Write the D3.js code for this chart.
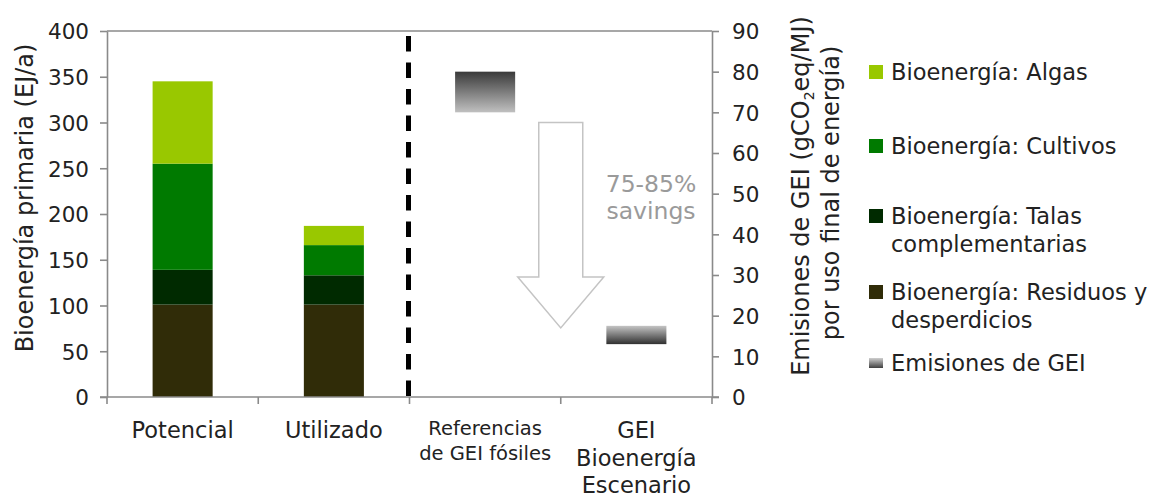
<!DOCTYPE html>
<html>
<head>
<meta charset="utf-8">
<script src="https://cdn.jsdelivr.net/npm/d3@7"></script>
<style>
  html, body { margin: 0; padding: 0; background: #fff; }
  svg { display: block; font-family: "DejaVu Sans", Verdana, sans-serif; }
</style>
</head>
<body>
<svg id="chart" width="1169" height="497"></svg>
<script>
// ---------- data ----------
const categories = ["Potencial", "Utilizado", "Referencias de GEI fósiles", "GEI Bioenergía Escenario"];
const categoryLines = [["Potencial"], ["Utilizado"], ["Referencias", "de GEI fósiles"], ["GEI", "Bioenergía", "Escenario"]];
const seriesNames = ["Bioenergía: Residuos y desperdicios", "Bioenergía: Talas complementarias", "Bioenergía: Cultivos", "Bioenergía: Algas"];
const seriesKeys = ["residuos", "talas", "cultivos", "algas"];
const residuos = [101, 101];
const talas = [38, 32];
const cultivos = [116, 33];
const algas = [90, 21];
const ghgLow = [70, 13];      // gCO2eq/MJ
const ghgHigh = [80, 17.5];
const arrowValues = { top: 67.5, head: 29.5, tip: 17 };
const leftTicks = [0, 50, 100, 150, 200, 250, 300, 350, 400];
const rightTicks = [0, 10, 20, 30, 40, 50, 60, 70, 80, 90];
const savingsText = ["75-85%", "savings"];
const leftTitle = "Bioenergía primaria (EJ/a)";
const legendItems = [
  { key: "algas", lines: ["Bioenergía: Algas"] },
  { key: "cultivos", lines: ["Bioenergía: Cultivos"] },
  { key: "talas", lines: ["Bioenergía: Talas", "complementarias"] },
  { key: "residuos", lines: ["Bioenergía: Residuos y", "desperdicios"] },
  { key: "ghg", lines: ["Emisiones de GEI"] }
];

// ---------- styles ----------
const colors = { algas: "#99c800", cultivos: "#007a00", talas: "#002a00", residuos: "#302c08" };
const axisColor = "#8a8a8a";
const textColor = "#222";

const svg = d3.select("#chart");
const plot = { left: 107, right: 712, top: 31, bottom: 397 };

const x = d3.scaleBand().domain(categories).range([plot.left, plot.right]).padding(0);
const yL = d3.scaleLinear().domain([0, 400]).range([plot.bottom, plot.top]);
const yR = d3.scaleLinear().domain([0, 90]).range([plot.bottom, plot.top]);
const barW = x.bandwidth() * 0.397;
const barX = c => x(c) + (x.bandwidth() - barW) / 2;

// gradients
const defs = svg.append("defs");
function grad(id, top, bottom) {
  const g = defs.append("linearGradient").attr("id", id).attr("x1", 0).attr("y1", 0).attr("x2", 0).attr("y2", 1);
  g.append("stop").attr("offset", "0%").attr("stop-color", top);
  g.append("stop").attr("offset", "100%").attr("stop-color", bottom);
}
grad("gDown", "#3a3a3a", "#c0c0c0");
grad("gUp", "#c4c4c4", "#303030");
grad("gLeg", "#cfcfcf", "#404040");

// stacked bars
const rows = [0, 1].map(i => ({ cat: categories[i], residuos: residuos[i], talas: talas[i], cultivos: cultivos[i], algas: algas[i] }));
const stack = d3.stack().keys(seriesKeys)(rows);
svg.append("g").selectAll("g").data(stack).join("g")
  .attr("fill", d => colors[d.key])
  .selectAll("rect").data(d => d).join("rect")
  .attr("x", d => barX(d.data.cat))
  .attr("width", barW)
  .attr("y", d => yL(d[1]))
  .attr("height", d => yL(d[0]) - yL(d[1]));

// GHG range rectangles
[0, 1].forEach(i => {
  const c = categories[i + 2];
  svg.append("rect")
    .attr("x", barX(c)).attr("width", barW)
    .attr("y", yR(ghgHigh[i])).attr("height", yR(ghgLow[i]) - yR(ghgHigh[i]))
    .attr("fill", i === 0 ? "url(#gDown)" : "url(#gUp)");
});

// savings arrow
const ax = x(categories[3]);
const shaftHalf = 22, headHalf = 43;
const arrowPts = [
  [ax - shaftHalf, yR(arrowValues.top)], [ax + shaftHalf, yR(arrowValues.top)],
  [ax + shaftHalf, yR(arrowValues.head)], [ax + headHalf, yR(arrowValues.head)],
  [ax, yR(arrowValues.tip)], [ax - headHalf, yR(arrowValues.head)],
  [ax - shaftHalf, yR(arrowValues.head)]
];
svg.append("path").attr("d", d3.line()(arrowPts) + "Z")
  .attr("fill", "#fff").attr("stroke", "#c4c4c4").attr("stroke-width", 1.5);

svg.append("g").selectAll("text").data(savingsText).join("text")
  .attr("x", 651).attr("y", (d, i) => 192 + i * 27)
  .attr("text-anchor", "middle").attr("fill", "#9a9a9a").attr("font-size", 23.5)
  .text(d => d);

// dashed divider
svg.append("line")
  .attr("x1", x(categories[2]) - 1).attr("x2", x(categories[2]) - 1)
  .attr("y1", plot.top + 5).attr("y2", plot.bottom)
  .attr("stroke", "#000").attr("stroke-width", 5).attr("stroke-dasharray", "15.5 11");

// frame top
svg.append("line").attr("x1", plot.left).attr("x2", plot.right).attr("y1", plot.top).attr("y2", plot.top)
  .attr("stroke", axisColor).attr("stroke-width", 1.6);

// axes
function styleAxis(g, size) {
  g.selectAll(".domain").attr("stroke", axisColor).attr("stroke-width", 1.6);
  g.selectAll(".tick line").attr("stroke", axisColor).attr("stroke-width", 1.6);
  g.selectAll(".tick text").attr("fill", textColor).attr("font-size", size)
    .attr("font-family", "DejaVu Sans, Verdana, sans-serif");
}
const gL = svg.append("g").attr("transform", `translate(${plot.left},0)`)
  .call(d3.axisLeft(yL).tickValues(leftTicks).tickSize(7).tickSizeOuter(0).tickPadding(11));
styleAxis(gL, 21.5);
gL.selectAll(".tick text").attr("dy", "0.36em");
const gR = svg.append("g").attr("transform", `translate(${plot.right},0)`)
  .call(d3.axisRight(yR).tickValues(rightTicks).tickSize(7).tickSizeOuter(0).tickPadding(13));
styleAxis(gR, 21.5);
gR.selectAll(".tick text").attr("dy", "0.36em");

// bottom axis: line with ticks at band boundaries
const boundaries = categories.map(c => x(c)).concat([x(categories[3]) + x.bandwidth()]);
svg.append("line").attr("x1", plot.left - 7).attr("x2", plot.right + 7).attr("y1", plot.bottom).attr("y2", plot.bottom)
  .attr("stroke", axisColor).attr("stroke-width", 1.6);
svg.append("g").selectAll("line").data(boundaries).join("line")
  .attr("x1", d => d).attr("x2", d => d).attr("y1", plot.bottom).attr("y2", plot.bottom + 7)
  .attr("stroke", axisColor).attr("stroke-width", 1.6);

// category labels
const labelSpec = [
  { size: 22.5, base: 438, step: 27 },
  { size: 22.5, base: 438, step: 27 },
  { size: 19.5, base: 435, step: 25 },
  { size: 22.5, base: 438, step: 27.5 }
];
categories.forEach((c, i) => {
  const t = svg.append("text").attr("text-anchor", "middle").attr("fill", textColor)
    .attr("font-size", labelSpec[i].size);
  categoryLines[i].forEach((ln, j) => {
    t.append("tspan").attr("x", x(c) + x.bandwidth() / 2).attr("y", labelSpec[i].base + j * labelSpec[i].step).text(ln);
  });
});

// axis titles
svg.append("text").attr("transform", "translate(33,198) rotate(-90)")
  .attr("text-anchor", "middle").attr("fill", textColor).attr("font-size", 24).text(leftTitle);

const rt = svg.append("text").attr("transform", "translate(809,196) rotate(-90)")
  .attr("text-anchor", "middle").attr("fill", textColor).attr("font-size", 24);
rt.append("tspan").text("Emisiones de GEI (gCO");
rt.append("tspan").attr("font-size", 14).attr("dy", 5).text("2");
rt.append("tspan").attr("dy", -5).text("eq/MJ)");
svg.append("text").attr("transform", "translate(839,193) rotate(-90)")
  .attr("text-anchor", "middle").attr("fill", textColor).attr("font-size", 24).text("por uso final de energía)");

// legend
const legendY = [[72, 0], [146, 0], [216, 244], [292, 320], [363, 0]];
legendItems.forEach((it, i) => {
  const cy = legendY[i][0];
  if (it.key === "ghg") {
    svg.append("rect").attr("x", 869).attr("y", cy - 5).attr("width", 14).attr("height", 10).attr("fill", "url(#gLeg)");
  } else {
    svg.append("rect").attr("x", 869).attr("y", cy - 7).attr("width", 14).attr("height", 14).attr("fill", colors[it.key]);
  }
  it.lines.forEach((ln, j) => {
    svg.append("text").attr("x", 891).attr("y", (j === 0 ? cy : legendY[i][1]) + 8)
      .attr("fill", textColor).attr("font-size", 22.5).text(ln);
  });
});
</script>
</body>
</html>
